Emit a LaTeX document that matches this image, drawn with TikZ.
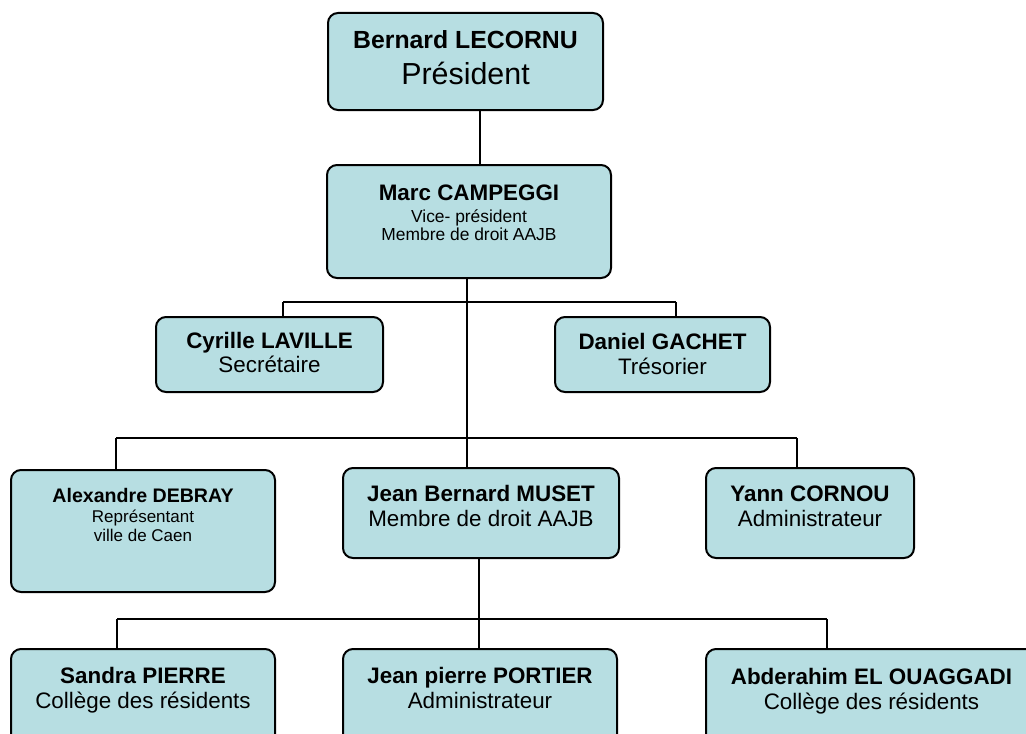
\documentclass[tikz,border=0pt]{standalone}
\usepackage{fontspec}
\setmainfont{Liberation Sans}
\usepackage{tikz}
\usetikzlibrary{positioning,calc}

\definecolor{boxfill}{RGB}{183,222,226}

\tikzset{
  orgbox/.style={draw, line width=1pt, fill=boxfill, rounded corners=5pt, inner sep=0pt},
  orgtext/.style={align=center, inner sep=0pt, anchor=base, font=\fontsize{11.2}{12.5}\selectfont}
}

\begin{document}
\begin{tikzpicture}[x=0.5pt,y=-0.5pt]
  \useasboundingbox (0,0) rectangle (1026,733);
  \clip (0,0) rectangle (1026,733);
  % Define the boxes of the chart
  \node[orgbox, minimum width=137.5pt, minimum height=48.5pt] (Bernard) at (465.5,61.5) {};
  \node[orgbox, minimum width=142pt, minimum height=56.5pt] (Marc) at (469,221.5) {};
  \node[orgbox, minimum width=113.5pt, minimum height=37.5pt] (Cyrille) at (269.5,354.5) {};
  \node[orgbox, minimum width=107.5pt, minimum height=37.5pt] (Daniel) at (662.5,354.5) {};
  \node[orgbox, minimum width=132pt, minimum height=61pt] (Alexandre) at (143,531) {};
  \node[orgbox, minimum width=138pt, minimum height=45pt] (JeanBernard) at (481,513) {};
  \node[orgbox, minimum width=104pt, minimum height=45pt] (Yann) at (810,513) {};
  \node[orgbox, minimum width=132pt, minimum height=55.5pt] (Sandra) at (143,704.5) {};
  \node[orgbox, minimum width=137pt, minimum height=55.5pt] (JeanPierre) at (480,704.5) {};
  \node[orgbox, minimum width=165.5pt, minimum height=55.5pt] (Abderahim) at (871.5,704.5) {};
  % Branch points on the horizontal bars
  \coordinate (c2) at (283,302);
  \coordinate (d2) at (676,302);
  \coordinate (a3) at (116,438);
  \coordinate (y3) at (797,438);
  \coordinate (s4) at (117,619);
  \coordinate (e4) at (827,619);
  % Draw the connectors
  \draw[line width=1pt] ([xshift=7.25pt]Bernard.south) -- ([xshift=7.25pt]Bernard.south |- Marc.north);
  \draw[line width=1pt] ([xshift=-1pt]Marc.south) -- ([xshift=-1pt]Marc.south |- JeanBernard.north);
  \draw[line width=1pt] (c2) -- (d2) (c2) -- (c2 |- Cyrille.north) (d2) -- (d2 |- Daniel.north);
  \draw[line width=1pt] (a3) -- (y3) (a3) -- (a3 |- Alexandre.north) (y3) -- (y3 |- Yann.north);
  \draw[line width=1pt] ([xshift=-1pt]JeanBernard.south) -- ([xshift=-1pt]JeanBernard.south |- JeanPierre.north);
  \draw[line width=1pt] (s4) -- (e4) (s4) -- (s4 |- Sandra.north) (e4) -- (e4 |- Abderahim.north);
  % Put the names in the boxes (base = last line)
  \node[orgtext, font=\fontsize{15.2}{17.5}\selectfont] (Bernard-t) at ([yshift=-36pt]Bernard.north)
    {{\fontsize{12.4}{14}\selectfont\bfseries Bernard LECORNU}\\ Président};
  \node[orgtext, font=\fontsize{8.7}{9.2}\selectfont] (Marc-t) at ([yshift=-38.3pt]Marc.north)
    {{\fontsize{11.2}{12}\selectfont\bfseries Marc CAMPEGGI}\\[1.6pt] Vice- président\\ Membre de droit AAJB};
  \node[orgtext, font=\fontsize{11.2}{11.9}\selectfont] (Cyrille-t) at ([yshift=-28pt]Cyrille.north) {\textbf{Cyrille LAVILLE}\\ Secrétaire};
  \node[orgtext] (Daniel-t) at ([yshift=-29pt]Daniel.north) {\textbf{Daniel GACHET}\\ Trésorier};
  \node[orgtext, font=\fontsize{8.5}{9.5}\selectfont] (Alexandre-t) at ([yshift=-36pt]Alexandre.north)
    {{\fontsize{9.8}{11}\selectfont\bfseries Alexandre DEBRAY}\\[0.5pt] Représentant\\ ville de Caen};
  \node[orgtext] (JeanBernard-t) at ([yshift=-29.5pt]JeanBernard.north) {\textbf{Jean Bernard MUSET}\\ Membre de droit AAJB};
  \node[orgtext] (Yann-t) at ([yshift=-29.5pt]Yann.north) {\textbf{Yann CORNOU}\\ Administrateur};
  \node[orgtext] (Sandra-t) at ([yshift=-30pt]Sandra.north) {\textbf{Sandra PIERRE}\\ Collège des résidents};
  \node[orgtext] (JeanPierre-t) at ([yshift=-30pt]JeanPierre.north) {\textbf{Jean pierre PORTIER}\\ Administrateur};
  \node[orgtext] (Abderahim-t) at ([yshift=-30.5pt]Abderahim.north) {\textbf{Abderahim EL OUAGGADI}\\ Collège des résidents};
\end{tikzpicture}
\end{document}
